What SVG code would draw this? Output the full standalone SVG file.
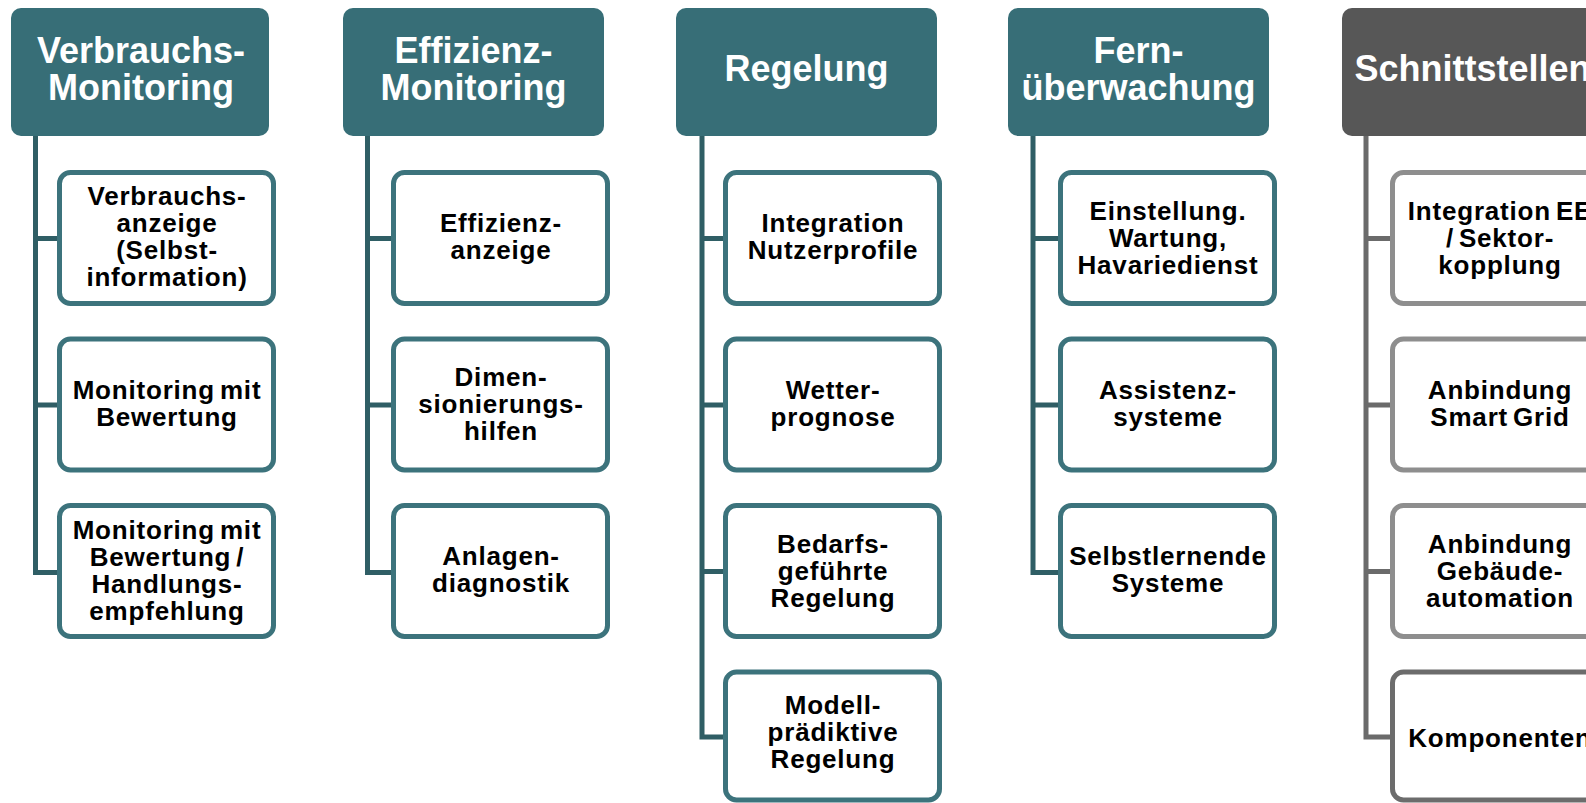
<svg xmlns="http://www.w3.org/2000/svg" width="1586" height="803" viewBox="0 0 1586 803">
  <style>
    .hdr { fill: #376E77; }
    .hdr.gray { fill: #575757; }
    .ht { font-family: "Liberation Sans", Arial, sans-serif; font-weight: bold; font-size: 36px; fill: #ffffff; text-anchor: middle; }
    .box { fill: #ffffff; stroke: #3C737C; stroke-width: 5; }
    .box.gray { stroke: #8E8E8E; }
    .box.dark { stroke: #6C6C6C; }
    .bt { font-family: "Liberation Sans", Arial, sans-serif; font-weight: bold; font-size: 26px; letter-spacing: 0.8px; word-spacing: -3px; fill: #000000; text-anchor: middle; }
    .con { fill: none; stroke: #2F5E65; stroke-width: 5; stroke-linejoin: miter; }
    .con.gray { stroke: #6B6B6B; }
  </style>
  <rect width="1586" height="803" fill="#ffffff"/>

  <!-- connectors: vertical trunk from each header with branches to its items -->
  <g id="connectors">
    <path class="con" d="M35.5 136 V572.5 H58 M35.5 238.5 H58 M35.5 405 H58"/>
    <path class="con" d="M367.5 136 V572.5 H391 M367.5 238.5 H391 M367.5 405 H391"/>
    <path class="con" d="M702 136 V737 H724 M702 238.5 H724 M702 405 H724 M702 571.5 H724"/>
    <path class="con" d="M1033 136 V572.5 H1058 M1033 238.5 H1058 M1033 405 H1058"/>
    <path class="con gray" d="M1366 136 V737 H1390 M1366 238.5 H1390 M1366 405 H1390 M1366 571.5 H1390"/>
  </g>

  <!-- Column 1 -->
  <g id="h-verbrauchs-monitoring">
    <rect class="hdr" x="11" y="8" width="258" height="128" rx="10"/>
    <text class="ht" x="141" y="63">Verbrauchs-</text>
    <text class="ht" x="141" y="100">Monitoring</text>
  </g>
  <g id="n-verbrauchsanzeige">
    <rect class="box" x="59.5" y="172.5" width="214" height="131" rx="11"/>
    <text class="bt" x="167" y="205">Verbrauchs-</text>
    <text class="bt" x="167" y="232">anzeige</text>
    <text class="bt" x="167" y="259">(Selbst-</text>
    <text class="bt" x="167" y="286">information)</text>
  </g>
  <g id="n-monitoring-bewertung">
    <rect class="box" x="59.5" y="339" width="214" height="131" rx="11"/>
    <text class="bt" x="167" y="399">Monitoring mit</text>
    <text class="bt" x="167" y="426">Bewertung</text>
  </g>
  <g id="n-monitoring-handlung">
    <rect class="box" x="59.5" y="505.5" width="214" height="131" rx="11"/>
    <text class="bt" x="167" y="539">Monitoring mit</text>
    <text class="bt" x="167" y="566">Bewertung /</text>
    <text class="bt" x="167" y="593">Handlungs-</text>
    <text class="bt" x="167" y="620">empfehlung</text>
  </g>

  <!-- Column 2 -->
  <g id="h-effizienz-monitoring">
    <rect class="hdr" x="343" y="8" width="261" height="128" rx="10"/>
    <text class="ht" x="473.5" y="63">Effizienz-</text>
    <text class="ht" x="473.5" y="100">Monitoring</text>
  </g>
  <g id="n-effizienzanzeige">
    <rect class="box" x="393.5" y="172.5" width="214" height="131" rx="11"/>
    <text class="bt" x="501" y="232">Effizienz-</text>
    <text class="bt" x="501" y="259">anzeige</text>
  </g>
  <g id="n-dimensionierungshilfen">
    <rect class="box" x="393.5" y="339" width="214" height="131" rx="11"/>
    <text class="bt" x="501" y="386">Dimen-</text>
    <text class="bt" x="501" y="413">sionierungs-</text>
    <text class="bt" x="501" y="440">hilfen</text>
  </g>
  <g id="n-anlagendiagnostik">
    <rect class="box" x="393.5" y="505.5" width="214" height="131" rx="11"/>
    <text class="bt" x="501" y="565">Anlagen-</text>
    <text class="bt" x="501" y="592">diagnostik</text>
  </g>

  <!-- Column 3 -->
  <g id="h-regelung">
    <rect class="hdr" x="676" y="8" width="261" height="128" rx="10"/>
    <text class="ht" x="806.5" y="81">Regelung</text>
  </g>
  <g id="n-nutzerprofile">
    <rect class="box" x="725.5" y="172.5" width="214" height="131" rx="11"/>
    <text class="bt" x="833" y="232">Integration</text>
    <text class="bt" x="833" y="259">Nutzerprofile</text>
  </g>
  <g id="n-wetterprognose">
    <rect class="box" x="725.5" y="339" width="214" height="131" rx="11"/>
    <text class="bt" x="833" y="399">Wetter-</text>
    <text class="bt" x="833" y="426">prognose</text>
  </g>
  <g id="n-bedarfsgefuehrt">
    <rect class="box" x="725.5" y="505.5" width="214" height="131" rx="11"/>
    <text class="bt" x="833" y="553">Bedarfs-</text>
    <text class="bt" x="833" y="580">geführte</text>
    <text class="bt" x="833" y="607">Regelung</text>
  </g>
  <g id="n-modellpraediktiv">
    <rect class="box" x="725.5" y="672" width="214" height="128" rx="11"/>
    <text class="bt" x="833" y="714">Modell-</text>
    <text class="bt" x="833" y="741">prädiktive</text>
    <text class="bt" x="833" y="768">Regelung</text>
  </g>

  <!-- Column 4 -->
  <g id="h-fernueberwachung">
    <rect class="hdr" x="1008" y="8" width="261" height="128" rx="10"/>
    <text class="ht" x="1138.5" y="63">Fern-</text>
    <text class="ht" x="1138.5" y="100">überwachung</text>
  </g>
  <g id="n-einstellung">
    <rect class="box" x="1060.5" y="172.5" width="214" height="131" rx="11"/>
    <text class="bt" x="1168" y="220">Einstellung.</text>
    <text class="bt" x="1168" y="247">Wartung,</text>
    <text class="bt" x="1168" y="274">Havariedienst</text>
  </g>
  <g id="n-assistenzsysteme">
    <rect class="box" x="1060.5" y="339" width="214" height="131" rx="11"/>
    <text class="bt" x="1168" y="399">Assistenz-</text>
    <text class="bt" x="1168" y="426">systeme</text>
  </g>
  <g id="n-selbstlernend">
    <rect class="box" x="1060.5" y="505.5" width="214" height="131" rx="11"/>
    <text class="bt" x="1168" y="565">Selbstlernende</text>
    <text class="bt" x="1168" y="592">Systeme</text>
  </g>

  <!-- Column 5 -->
  <g id="h-schnittstellen">
    <rect class="hdr gray" x="1342" y="8" width="261" height="128" rx="10"/>
    <text class="ht" x="1472.5" y="81">Schnittstellen</text>
  </g>
  <g id="n-integration-ee">
    <rect class="box gray" x="1392.5" y="172.5" width="214" height="131" rx="11"/>
    <text class="bt" x="1500" y="220">Integration EE</text>
    <text class="bt" x="1500" y="247">/ Sektor-</text>
    <text class="bt" x="1500" y="274">kopplung</text>
  </g>
  <g id="n-smart-grid">
    <rect class="box gray" x="1392.5" y="339" width="214" height="131" rx="11"/>
    <text class="bt" x="1500" y="399">Anbindung</text>
    <text class="bt" x="1500" y="426">Smart Grid</text>
  </g>
  <g id="n-gebaeudeautomation">
    <rect class="box gray" x="1392.5" y="505.5" width="214" height="131" rx="11"/>
    <text class="bt" x="1500" y="553">Anbindung</text>
    <text class="bt" x="1500" y="580">Gebäude-</text>
    <text class="bt" x="1500" y="607">automation</text>
  </g>
  <g id="n-komponenten">
    <rect class="box dark" x="1392.5" y="672" width="214" height="128" rx="11"/>
    <text class="bt" x="1500" y="747">Komponenten</text>
  </g>
</svg>
